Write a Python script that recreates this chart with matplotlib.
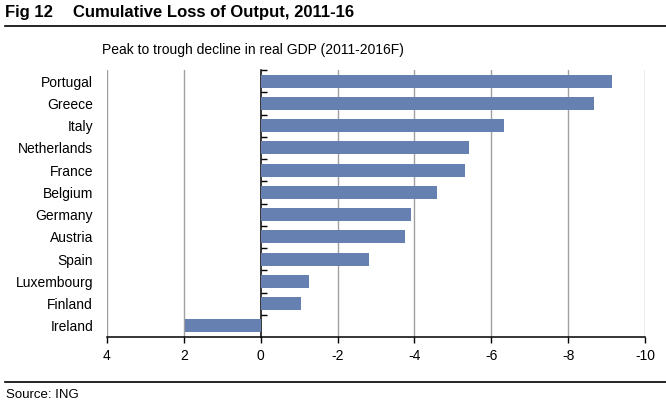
import matplotlib.pyplot as plt
from matplotlib.lines import Line2D

plt.rcParams['font.family'] = ['Liberation Sans', 'DejaVu Sans']
plt.rcParams['axes.unicode_minus'] = False

#Chart data
countries = ['Portugal', 'Greece', 'Italy', 'Netherlands', 'France', 'Belgium',
             'Germany', 'Austria', 'Spain', 'Luxembourg', 'Finland', 'Ireland']
decline = [-9.13, -8.67, -6.34, -5.42, -5.32, -4.58,
           -3.91, -3.76, -2.81, -1.26, -1.05, 1.96]
xticks = [4, 2, 0, -2, -4, -6, -8, -10]

bar_col = '#6680b2'
grid_col = '#a0a0a0'

fig = plt.figure(figsize=(6.66, 4.07), dpi=100)
ax = fig.add_axes([107/666, 1-337/407, (645-107)/666, (337-70)/407])

ypos = list(range(len(countries)))
ax.barh(ypos, decline, height=0.58, color=bar_col, zorder=3)

ax.set_xlim(4, -10)
ax.set_ylim(len(countries)-0.5, -0.5)
ax.set_xticks(xticks)
ax.set_xticklabels([str(t) for t in xticks])
ax.set_yticks(ypos)
ax.set_yticklabels(countries)

for t in xticks:
    if t != 0:
        ax.axvline(t, color=grid_col, lw=1, zorder=1)

for s in ['top', 'right', 'left']:
    ax.spines[s].set_visible(False)
ax.spines['bottom'].set_linewidth(1.1)
ax.tick_params(axis='y', length=0, pad=10, labelsize=10)
ax.tick_params(axis='x', length=4, width=1, pad=5, labelsize=10)

#zero line with category boundary ticks (pointing right only)
zero_frac = (4 - 0) / 14
sec = ax.secondary_yaxis(zero_frac)
sec.set_yticks([i - 0.5 for i in range(len(countries))])
sec.tick_params(axis='y', direction='in', length=4, width=1,
                left=True, right=False, labelleft=False, labelright=False)
sec.spines['left'].set_linewidth(1.1)
sec.spines['right'].set_visible(False)

#Header and footer
fig.text(5/666, 1-12.5/407, 'Fig 12', fontsize=12, fontweight='bold', va='center')
fig.text(73/666, 1-12.5/407, 'Cumulative Loss of Output, 2011-16', fontsize=12,
         fontweight='bold', va='center')
fig.add_artist(Line2D([5/666, 1], [1-26/407, 1-26/407], color='black', lw=1.2))
fig.text(102/666, 1-50/407, 'Peak to trough decline in real GDP (2011-2016F)',
         fontsize=10, va='center')
fig.add_artist(Line2D([5/666, 1], [1-381.5/407, 1-381.5/407], color='black', lw=1.2))
fig.text(6/666, 1-395/407, 'Source: ING', fontsize=9.5, va='center')

fig.savefig('out.png', dpi=100)
